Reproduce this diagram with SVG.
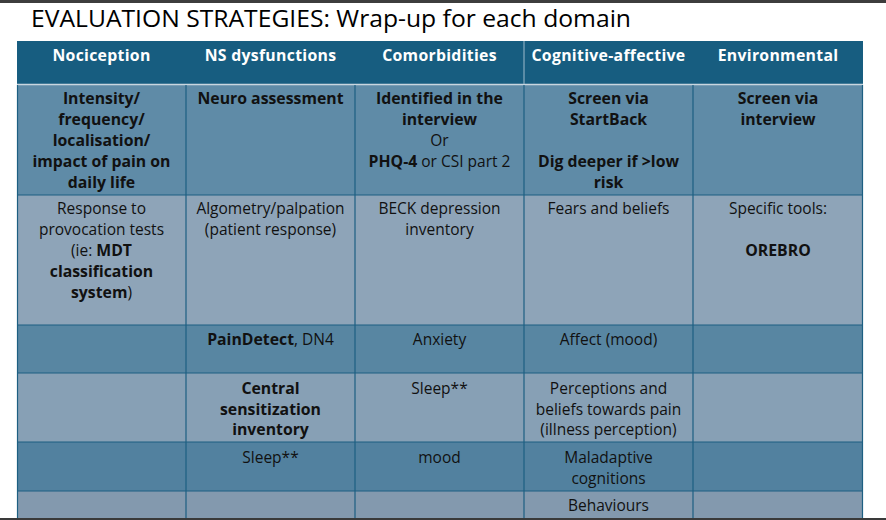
<svg xmlns="http://www.w3.org/2000/svg" width="886" height="520" viewBox="0 0 886 520">
<style>
text{font-family:"Open Sans","Liberation Sans",Arial,sans-serif;font-size:15.5px;fill:#111111;text-anchor:middle}
.t{font-size:23px;text-anchor:start;fill:#000}
.h{fill:#ffffff;font-weight:bold;font-size:15.8px;letter-spacing:0.3px}
.b{font-weight:bold;font-size:15.8px}
.g{stroke:#1d5f82;stroke-width:1.2;fill:none}
</style>
<rect x="0" y="0" width="886" height="520" fill="#ffffff"/>
<rect x="0" y="0" width="886" height="3" fill="#3d3d3d"/>
<rect x="0" y="518" width="886" height="2" fill="#3a3a3a"/>
<text class="t" x="31" y="27" textLength="600" lengthAdjust="spacingAndGlyphs">EVALUATION STRATEGIES: Wrap-up for each domain</text>

<g id="table">
<rect x="17" y="41" width="846" height="43.5" fill="#175d80"/>
<rect x="17" y="85" width="846" height="110" fill="#5f8ba7"/>
<rect x="17" y="195" width="846" height="130" fill="#8ea4b8"/>
<rect x="17" y="325" width="846" height="48" fill="#5886a2"/>
<rect x="17" y="373" width="846" height="69" fill="#87a0b5"/>
<rect x="17" y="442" width="846" height="49" fill="#52819f"/>
<rect x="17" y="491" width="846" height="27" fill="#8399ae"/>
<line x1="17" y1="84.5" x2="863" y2="84.5" stroke="#c9d6df" stroke-width="1.5"/>
<line x1="524" y1="41" x2="524" y2="84" stroke="#9fbccc" stroke-width="1"/>
</g>

<g id="grid">
<path class="g" d="M17,195H863M17,325H863M17,373H863M17,442H863M17,491H863"/>
<path class="g" d="M186,85V518M355,85V518M524,85V518M693,85V518"/>
<path class="g" d="M17.5,85V518M862.5,85V518" stroke-width="1.6"/>
</g>

<g id="header">
<text class="h" x="101.5" y="61">Nociception</text>
<text class="h" x="270.5" y="61">NS dysfunctions</text>
<text class="h" x="439.5" y="61">Comorbidities</text>
<text class="h" x="608.5" y="61">Cognitive-affective</text>
<text class="h" x="778" y="61">Environmental</text>
</g>

<g id="row1">
<text class="b" x="101.5" y="104">Intensity/</text>
<text class="b" x="101.5" y="125">frequency/</text>
<text class="b" x="101.5" y="146">localisation/</text>
<text class="b" x="101.5" y="167">impact of pain on</text>
<text class="b" x="101.5" y="188">daily life</text>
<text class="b" x="270.5" y="104">Neuro assessment</text>
<text class="b" x="439.5" y="104">Identified in the</text>
<text class="b" x="439.5" y="125">interview</text>
<text x="439.5" y="146">Or</text>
<text x="439.5" y="167"><tspan class="b">PHQ-4</tspan> or CSI part 2</text>
<text class="b" x="608.5" y="104">Screen via</text>
<text class="b" x="608.5" y="125">StartBack</text>
<text class="b" x="608.5" y="167">Dig deeper if &gt;low</text>
<text class="b" x="608.5" y="188">risk</text>
<text class="b" x="778" y="104">Screen via</text>
<text class="b" x="778" y="125">interview</text>
</g>

<g id="row2">
<text x="101.5" y="214">Response to</text>
<text x="101.5" y="235">provocation tests</text>
<text x="101.5" y="256">(ie: <tspan class="b">MDT</tspan></text>
<text class="b" x="101.5" y="277">classification</text>
<text x="101.5" y="297.5"><tspan class="b">system</tspan>)</text>
<text x="270.5" y="214">Algometry/palpation</text>
<text x="270.5" y="235">(patient response)</text>
<text x="439.5" y="214">BECK depression</text>
<text x="439.5" y="235">inventory</text>
<text x="608.5" y="214">Fears and beliefs</text>
<text x="778" y="214">Specific tools:</text>
<text class="b" x="778" y="256">OREBRO</text>
</g>

<g id="row3">
<text x="270.5" y="345"><tspan class="b">PainDetect</tspan>, DN4</text>
<text x="439.5" y="345">Anxiety</text>
<text x="608.5" y="345">Affect (mood)</text>
</g>

<g id="row4">
<text class="b" x="270.5" y="394">Central</text>
<text class="b" x="270.5" y="414.5">sensitization</text>
<text class="b" x="270.5" y="435">inventory</text>
<text x="439.5" y="394">Sleep**</text>
<text x="608.5" y="394">Perceptions and</text>
<text x="608.5" y="414.5">beliefs towards pain</text>
<text x="608.5" y="435">(illness perception)</text>
</g>

<g id="row5">
<text x="270.5" y="463">Sleep**</text>
<text x="439.5" y="463">mood</text>
<text x="608.5" y="463">Maladaptive</text>
<text x="608.5" y="483.5">cognitions</text>
</g>

<g id="row6">
<text x="608.5" y="511">Behaviours</text>
</g>
</svg>
